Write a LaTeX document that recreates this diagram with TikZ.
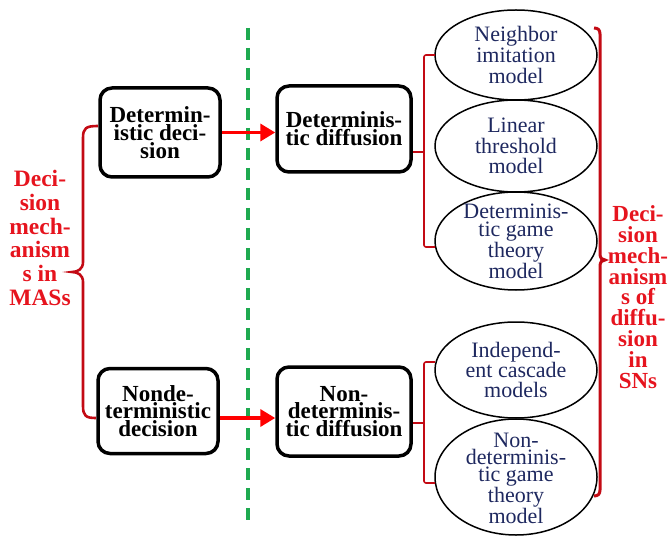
\documentclass[tikz,border=0pt]{standalone}
\usepackage{fontspec}
\setmainfont{Liberation Serif}
\usetikzlibrary{shapes.geometric,arrows.meta}
\definecolor{txtred}{RGB}{230,20,30}
\definecolor{brkred}{RGB}{195,10,20}
\definecolor{arrred}{RGB}{255,0,0}
\definecolor{navytxt}{RGB}{30,40,95}
\definecolor{dgreen}{RGB}{30,170,80}
\tikzset{
  box/.style={draw=black, line width=3.5pt, rounded corners=12pt, align=center, inner sep=0pt,
    font=\bfseries\fontsize{23}{17.8}\selectfont},
  ell/.style={draw=black, ellipse, line width=1.5pt, inner sep=0pt},
  etxt/.style={align=center, text=navytxt, inner sep=0pt},
  side/.style={align=center, text=txtred, inner sep=0pt},
  brk/.style={draw=brkred, line width=1.6pt},
  brace/.style={draw=brkred, line width=2.6pt},
  arr/.style={draw=arrred, line width=3.5pt, -{Triangle[length=15pt,width=17pt]}},
  sep/.style={draw=dgreen, line width=3.5pt, dash pattern=on 12pt off 8pt}
}
\begin{document}
\begin{tikzpicture}[x=1pt,y=-1pt]
\useasboundingbox (0,0) rectangle (671,537);
% separator
\coordinate (g1) at (248,28);
\coordinate (g2) at (248,522);
\draw[sep] (g1) -- (g2);
% boxes
\node[box, minimum width=120pt, minimum height=89pt] (b1) at (160,132.5) {Determin-\\istic deci-\\sion};
\node[box, minimum width=120pt, minimum height=85pt] (b2) at (158,411) {Nonde-\\terministic\\decision};
\node[box, minimum width=134pt, minimum height=86pt] (b3) at (344,129) {Determinis-\\tic diffusion};
\node[box, minimum width=134pt, minimum height=89pt] (b4) at (344,411.5) {Non-\\determinis-\\tic diffusion};
% arrows
\draw[arr] (b1.east) -- (b1.east -| b3.west);
\draw[arr] ([yshift=-7pt]b2.east) -- ([yshift=-7pt]b2.east -| b4.west);
% ellipses
\node[ell, minimum width=162pt, minimum height=90pt] (e1) at (516,55) {};
\node[ell, minimum width=162pt, minimum height=92pt] (e2) at (516,146) {};
\node[ell, minimum width=162pt, minimum height=98pt] (e3) at (516,241) {};
\node[ell, minimum width=162pt, minimum height=96pt] (e4) at (516,370) {};
\node[ell, minimum width=162pt, minimum height=116pt] (e5) at (516,477) {};
\node[etxt, font=\fontsize{22}{21}\selectfont] (t1) at (e1.center) {Neighbor\\imitation\\model};
\node[etxt, font=\fontsize{22}{20.5}\selectfont] (t2) at (e2.center) {Linear\\threshold\\model};
\node[etxt, font=\fontsize{22}{18.3}\selectfont] (t3) at (e3.center) {Determinis-\\tic game\\theory\\model};
\node[etxt, font=\fontsize{22}{20}\selectfont] (t4) at (e4.center) {Independ-\\ent cascade\\models};
\node[etxt, font=\fontsize{22}{17}\selectfont] (t5) at ([yshift=-1pt]e5.center) {Non-\\determinis-\\tic game\\theory\\model};
% brackets to ellipses
\coordinate (k1) at (435,55);
\coordinate (k3) at (435,247);
\coordinate (k4) at (435,362);
\coordinate (k5) at (435,483);
\draw[brk, rounded corners=2pt] (k1) -- (424,55) -- (424,247) -- (k3);
\draw[brk] ([yshift=-23pt]b3.east) -- (424,152);
\draw[brk, rounded corners=2pt] (k4) -- (424,362) -- (424,483) -- (k5);
\draw[brk] ([yshift=-11.5pt]b4.east) -- (424,423);
% left brace
\coordinate (lb1) at (98,126);
\coordinate (lb2) at (96,418);
\draw[brace] (lb1) .. controls (86,126) and (83,128) .. (83,138) -- (83,262)
  .. controls (83,269) and (78,272) .. (72,272)
  .. controls (78,272) and (83,275) .. (83,282) -- (83,406)
  .. controls (83,416) and (86,418) .. (lb2);
% right brace
\coordinate (rb1) at (594,28);
\coordinate (rb2) at (594,496);
\draw[brace, line width=3pt] (rb1) .. controls (598,28) and (600,30) .. (600,34) -- (600,254)
  .. controls (600,258) and (602,260) .. (605,260)
  .. controls (602,260) and (600,262) .. (600,266) -- (600,490)
  .. controls (600,494) and (598,496) .. (rb2);
% side labels
\node[side, font=\bfseries\fontsize{23.5}{23.8}\selectfont] (lt) at (40,238) {Deci-\\sion\\mech-\\anism\\s in\\MASs};
\node[side, font=\bfseries\fontsize{23}{20.8}\selectfont] (rt) at (638,297) {Deci-\\sion\\mech-\\anism\\s of\\diffu-\\sion\\in\\SNs};
\end{tikzpicture}
\end{document}
